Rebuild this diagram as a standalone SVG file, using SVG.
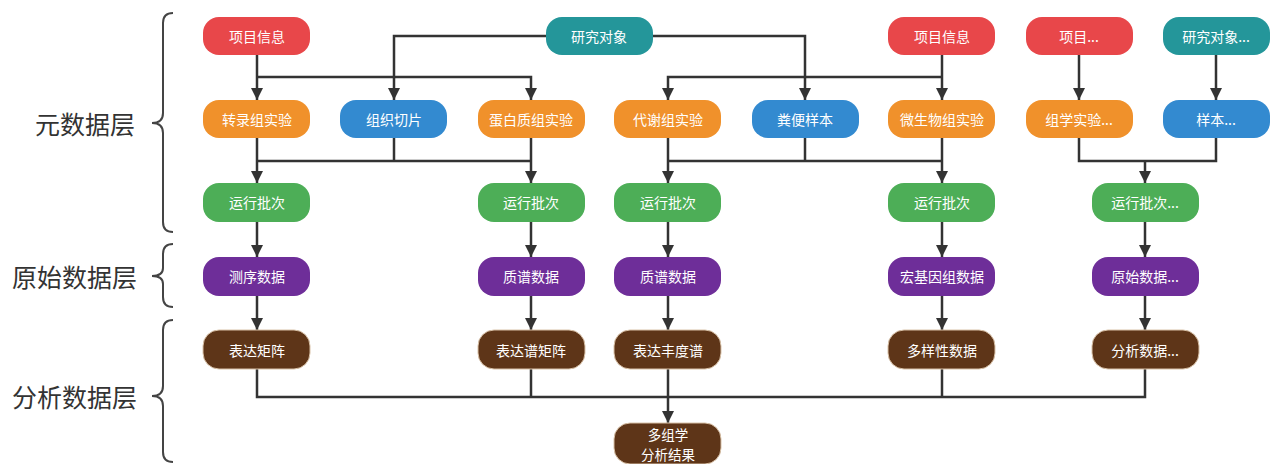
<svg xmlns="http://www.w3.org/2000/svg" width="1275" height="464" viewBox="0 0 1275 464">
<style>
.n text{font-family:"Noto Sans CJK SC","Noto Sans",sans-serif;font-size:14px;fill:#fff;text-anchor:middle;dominant-baseline:central}
.n rect{rx:16;ry:16}
.red{fill:#E8474A}.teal{fill:#24969A}.orange{fill:#F0912B}.blue{fill:#338AD0}.green{fill:#4DAE57}.purple{fill:#6E2E99}.brown{fill:#5E3518;stroke:#d9c2a8;stroke-width:1}
.c path{fill:none;stroke:#333;stroke-width:2.5}
.lab{font-family:"Noto Sans CJK SC","Noto Sans",sans-serif;font-size:25px;fill:#333;text-anchor:end;dominant-baseline:central}
.br{fill:none;stroke:#444;stroke-width:2}
</style>
<defs>
<marker id="ah" viewBox="0 0 12 12" refX="12" refY="6" markerWidth="13" markerHeight="12" markerUnits="userSpaceOnUse" orient="auto">
<path d="M0,0 L12,6 L0,12 z" fill="#333"/>
</marker>
</defs>
<g id="layers">
<text class="lab" x="135" y="123">元数据层</text>
<path class="br" d="M173,13 Q163,13 163,23 L163,113 Q163,123 152,123 Q163,123 163,133 L163,222 Q163,232 173,232"/>
<text class="lab" x="137" y="276">原始数据层</text>
<path class="br" d="M173,244 Q163,244 163,254 L163,268 Q163,276 152,276 Q163,276 163,284 L163,297 Q163,307 173,307"/>
<text class="lab" x="137" y="396">分析数据层</text>
<path class="br" d="M173,320 Q163,320 163,330 L163,386 Q163,396 152,396 Q163,396 163,406 L163,452 Q163,462 173,462"/>
</g>
<g class="c" id="connectors">
<path d="M257,55 V100" marker-end="url(#ah)"/>
<path d="M257,77 H531 V100" marker-end="url(#ah)"/>
<path d="M546,36 H394 V100" marker-end="url(#ah)"/>
<path d="M653,36 H805 V100" marker-end="url(#ah)"/>
<path d="M942,55 V100" marker-end="url(#ah)"/>
<path d="M942,77 H668 V100" marker-end="url(#ah)"/>
<path d="M1079,55 V100" marker-end="url(#ah)"/>
<path d="M1216,55 V100" marker-end="url(#ah)"/>
<path d="M257,138 V183" marker-end="url(#ah)"/>
<path d="M394,138 V161"/>
<path d="M257,161 H531"/>
<path d="M531,138 V183" marker-end="url(#ah)"/>
<path d="M668,138 V183" marker-end="url(#ah)"/>
<path d="M805,138 V161"/>
<path d="M668,161 H942"/>
<path d="M942,138 V183" marker-end="url(#ah)"/>
<path d="M1079,138 V161 H1216 V138"/>
<path d="M1145,161 V183" marker-end="url(#ah)"/>
<path d="M257,222 V257" marker-end="url(#ah)"/>
<path d="M531,222 V257" marker-end="url(#ah)"/>
<path d="M668,222 V257" marker-end="url(#ah)"/>
<path d="M942,222 V257" marker-end="url(#ah)"/>
<path d="M1145,222 V257" marker-end="url(#ah)"/>
<path d="M257,296 V330" marker-end="url(#ah)"/>
<path d="M531,296 V330" marker-end="url(#ah)"/>
<path d="M668,296 V330" marker-end="url(#ah)"/>
<path d="M942,296 V330" marker-end="url(#ah)"/>
<path d="M1145,296 V330" marker-end="url(#ah)"/>
<path d="M257,369 V397 H1145 V369"/>
<path d="M531,369 V397"/>
<path d="M942,369 V397"/>
<path d="M668,369 V423" marker-end="url(#ah)"/>
</g>
<g class="n" id="n_proj1"><rect class="red" x="203" y="17" width="107" height="38"/><text x="257" y="36">项目信息</text></g>
<g class="n" id="n_subj1"><rect class="teal" x="546" y="17" width="107" height="38"/><text x="599" y="36">研究对象</text></g>
<g class="n" id="n_proj2"><rect class="red" x="888" y="17" width="107" height="38"/><text x="942" y="36">项目信息</text></g>
<g class="n" id="n_proj3"><rect class="red" x="1026" y="17" width="107" height="38"/><text x="1079" y="36">项目...</text></g>
<g class="n" id="n_subj2"><rect class="teal" x="1163" y="17" width="107" height="38"/><text x="1216" y="36">研究对象...</text></g>
<g class="n" id="n_trans"><rect class="orange" x="203" y="100" width="107" height="38"/><text x="257" y="119">转录组实验</text></g>
<g class="n" id="n_tissue"><rect class="blue" x="340" y="100" width="107" height="38"/><text x="394" y="119">组织切片</text></g>
<g class="n" id="n_prot"><rect class="orange" x="478" y="100" width="107" height="38"/><text x="531" y="119">蛋白质组实验</text></g>
<g class="n" id="n_metab"><rect class="orange" x="614" y="100" width="107" height="38"/><text x="668" y="119">代谢组实验</text></g>
<g class="n" id="n_feces"><rect class="blue" x="752" y="100" width="107" height="38"/><text x="805" y="119">粪便样本</text></g>
<g class="n" id="n_micro"><rect class="orange" x="888" y="100" width="107" height="38"/><text x="942" y="119">微生物组实验</text></g>
<g class="n" id="n_omics"><rect class="orange" x="1026" y="100" width="107" height="38"/><text x="1079" y="119">组学实验...</text></g>
<g class="n" id="n_sample"><rect class="blue" x="1163" y="100" width="107" height="38"/><text x="1216" y="119">样本...</text></g>
<g class="n" id="n_run1"><rect class="green" x="203" y="183" width="107" height="39"/><text x="257" y="202">运行批次</text></g>
<g class="n" id="n_run2"><rect class="green" x="478" y="183" width="107" height="39"/><text x="531" y="202">运行批次</text></g>
<g class="n" id="n_run3"><rect class="green" x="614" y="183" width="107" height="39"/><text x="668" y="202">运行批次</text></g>
<g class="n" id="n_run4"><rect class="green" x="888" y="183" width="107" height="39"/><text x="942" y="202">运行批次</text></g>
<g class="n" id="n_run5"><rect class="green" x="1092" y="183" width="107" height="39"/><text x="1145" y="202">运行批次...</text></g>
<g class="n" id="n_seq"><rect class="purple" x="203" y="257" width="107" height="39"/><text x="257" y="276">测序数据</text></g>
<g class="n" id="n_ms1"><rect class="purple" x="478" y="257" width="107" height="39"/><text x="531" y="276">质谱数据</text></g>
<g class="n" id="n_ms2"><rect class="purple" x="614" y="257" width="107" height="39"/><text x="668" y="276">质谱数据</text></g>
<g class="n" id="n_meta"><rect class="purple" x="888" y="257" width="107" height="39"/><text x="942" y="276">宏基因组数据</text></g>
<g class="n" id="n_raw"><rect class="purple" x="1092" y="257" width="107" height="39"/><text x="1145" y="276">原始数据...</text></g>
<g class="n" id="n_expr"><rect class="brown" x="203" y="330" width="107" height="39"/><text x="257" y="350">表达矩阵</text></g>
<g class="n" id="n_exprs"><rect class="brown" x="478" y="330" width="107" height="39"/><text x="531" y="350">表达谱矩阵</text></g>
<g class="n" id="n_abund"><rect class="brown" x="614" y="330" width="107" height="39"/><text x="668" y="350">表达丰度谱</text></g>
<g class="n" id="n_div"><rect class="brown" x="888" y="330" width="107" height="39"/><text x="942" y="350">多样性数据</text></g>
<g class="n" id="n_ana"><rect class="brown" x="1092" y="330" width="107" height="39"/><text x="1145" y="350">分析数据...</text></g>
<g class="n" id="n_multi"><rect class="brown" x="614" y="423" width="107" height="41"/><text x="668" y="434" style="font-size:13.5px">多组学</text><text x="668" y="454" style="font-size:13.5px">分析结果</text></g>
</svg>
